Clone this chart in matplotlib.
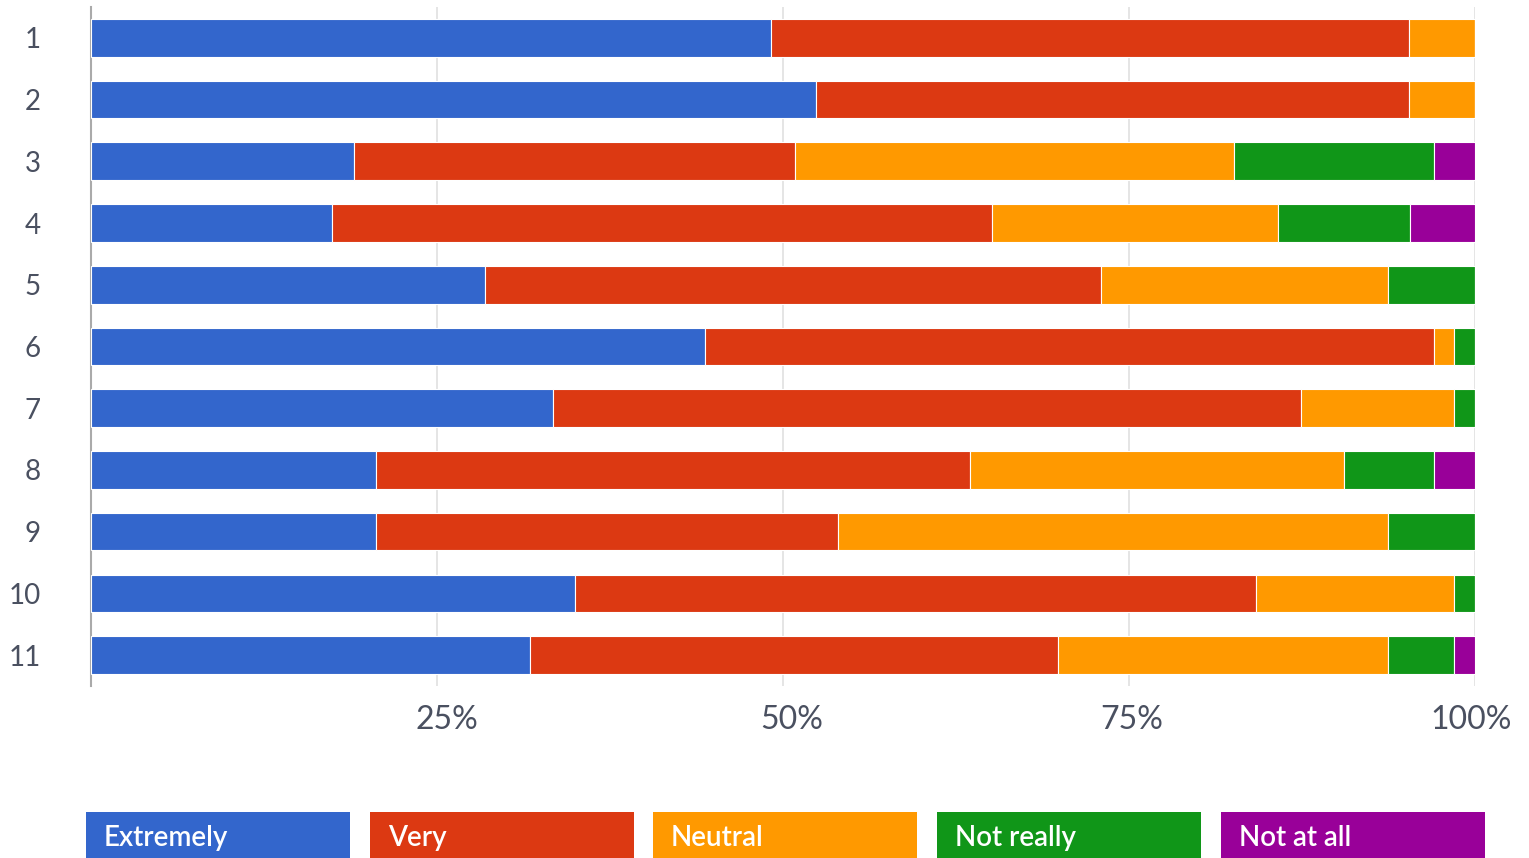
import numpy as np
import matplotlib.pyplot as plt
import matplotlib.transforms as mtransforms
from matplotlib.patches import Rectangle

plt.rcParams['font.family'] = ['Lato', 'DejaVu Sans']

questions = ['1', '2', '3', '4', '5', '6', '7', '8', '9', '10', '11']
categories = ['Extremely', 'Very', 'Neutral', 'Not really', 'Not at all']
colors = ['#3366CC', '#DC3912', '#FF9900', '#109618', '#990099']

# percentages per answer
extremely = [49.1, 52.4, 19.0, 17.4, 28.5, 44.4, 33.4, 20.6, 20.6, 35.0, 31.7]
very = [46.1, 42.8, 31.9, 47.7, 44.5, 52.6, 54.0, 42.9, 33.4, 49.2, 38.2]
neutral = [4.8, 4.8, 31.7, 20.7, 20.7, 1.5, 11.1, 27.0, 39.7, 14.3, 23.8]
not_really = [0.0, 0.0, 14.4, 9.5, 6.3, 1.5, 1.5, 6.5, 6.3, 1.5, 4.8]
not_at_all = [0.0, 0.0, 3.0, 4.7, 0.0, 0.0, 0.0, 3.0, 0.0, 0.0, 1.5]

series = [extremely, very, neutral, not_really, not_at_all]

fig = plt.figure(figsize=(15.29, 8.58), dpi=100)
ax = fig.add_axes([0.0595, 0.2005, 0.9052, 0.7914])

y = np.arange(1, len(questions) + 1)
left = np.zeros(len(questions))
for vals, col in zip(series, colors):
    vals = np.array(vals)
    ax.barh(y, vals, left=left, height=0.61, color=col, edgecolor='white',
            linewidth=0.8, zorder=3)
    left += vals

ax.set_xlim(0, 100)
ax.set_ylim(11.5, 0.5)
ax.set_xticks([25, 50, 75, 100])
ax.set_xticklabels(['25%', '50%', '75%', '100%'])
ax.set_yticks(y)
ax.set_yticklabels(questions)
ax.grid(axis='x', color='#e0e0e0', linewidth=1.2, zorder=0)
for s in ['top', 'right', 'bottom']:
    ax.spines[s].set_visible(False)
ax.spines['left'].set_color('#aaaaaa')
ax.spines['left'].set_linewidth(1.5)
ax.tick_params(axis='x', length=0, pad=14, labelsize=23, labelcolor='#4a5060')
ax.tick_params(axis='y', length=0, pad=36, labelsize=20, labelcolor='#4a5060')
for lab in ax.get_yticklabels():
    lab.set_horizontalalignment('right')
# small horizontal nudges of the percent labels, as in the original
for lab, dx in zip(ax.get_xticklabels(), [10, 9, 3, -4]):
    shift = mtransforms.ScaledTranslation(dx / 100, 0, fig.dpi_scale_trans)
    lab.set_transform(lab.get_transform() + shift)

# legend tiles along the bottom
W, H = 1529.0, 858.0
box_x = [86, 370, 653, 937, 1221]
for bx, name, col in zip(box_x, categories, colors):
    fig.patches.append(Rectangle((bx / W, 0), 264 / W, 46 / H, transform=fig.transFigure,
                                 facecolor=col, edgecolor='none'))
    fig.text((bx + 18) / W, 20 / H, name, color='white', fontsize=20,
             va='center', ha='left', fontweight='semibold')

fig.savefig('out.png', dpi=100)
